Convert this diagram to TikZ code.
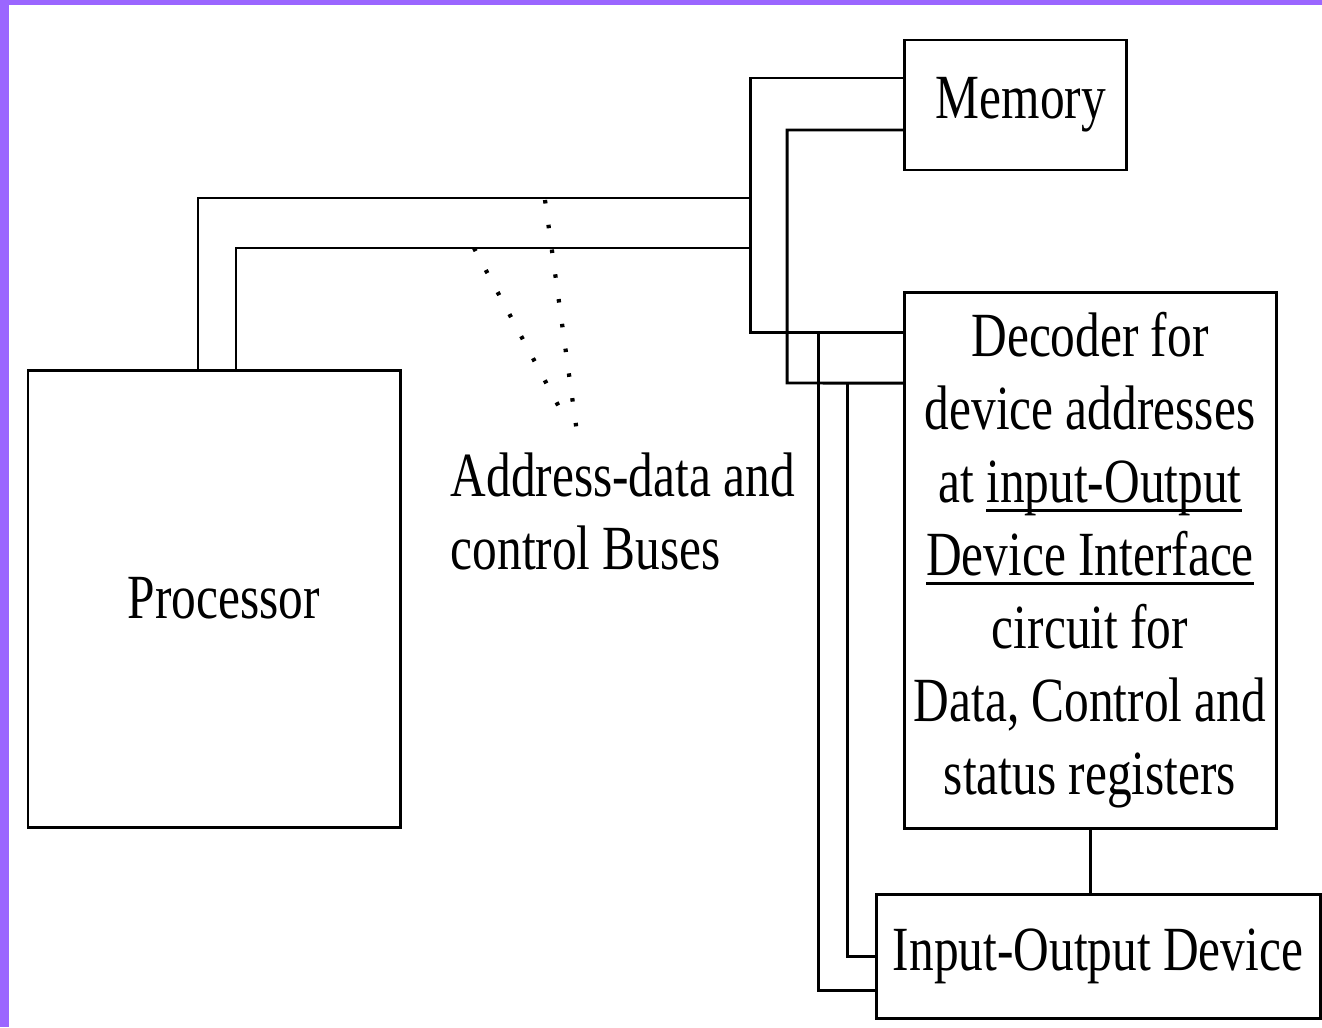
\documentclass[tikz,border=0pt]{standalone}
\usepackage{fontspec}
\setmainfont{Liberation Serif}[FakeStretch=0.785]

\definecolor{framepurple}{RGB}{155,102,255}

% underline that sits close to the baseline
\newsavebox\ulbox
\newcommand{\ulword}[1]{\sbox\ulbox{#1}\rlap{\rule[-0.16em]{\wd\ulbox}{0.05em}}\usebox\ulbox}
\newcommand{\blockfont}{\fontsize{17.9}{20.8}\selectfont}

\tikzset{
  block/.style = {rectangle,
      draw = black,
      line width = 0.85pt,
      inner sep = 0pt,
      outer sep = 0pt,
      font = \blockfont},
  bus/.style = {draw = black, line width = 0.85pt},
  pointer/.style = {line width = 1.2pt, dash pattern = on 0.35mm off 2.15mm},
}

\begin{document}
\begin{tikzpicture}[x = 0.1mm, y = -0.1mm]
\useasboundingbox (0,0) rectangle (1322,1027);
\fill[white] (0,0) rectangle (1322,1027);

% frame
\fill[framepurple] (0,0) rectangle (1322,5);
\fill[framepurple] (0,0) rectangle (9,1027);

% blocks
\node[block,
    minimum width = 37.2mm,
    minimum height = 45.7mm] (proc) at (214,598.5) {\hspace*{2mm}Processor};

\node[block,
    minimum width = 22.2mm,
    minimum height = 13mm] (mem) at (1015,105) {\hspace*{1.2mm}Memory};

\node[block,
    align = center,
    minimum width = 37.2mm,
    minimum height = 53.6mm] (dec) at (1090,560)
    {Decoder for\\device addresses\\at \ulword{input-Output}\\\ulword{Device Interface}\\circuit for\\Data, Control and\\status registers};

\node[block,
    minimum width = 44.4mm,
    minimum height = 12.4mm] (io) at (1098,956) {Input-Output Device};

% bus label
\node[anchor = north west,
    align = left,
    inner sep = 0pt,
    font = \blockfont] (buslabel) at (450,452) {Address-data and\\control Buses};

% bus corners and taps
\coordinate (busA) at (750,198);
\coordinate (busB) at (750,248);
\coordinate (cornerB) at (787,383);
\coordinate (dropA) at (818,332);
\coordinate (dropB) at (847,383);

% buses
\draw[bus] ([xshift = 17mm]proc.north west) |- (busA);
\draw[bus] ([xshift = 20.8mm]proc.north west) |- (busB);
\draw[bus] ([yshift = 2.7mm]mem.west) -| (busA);
\draw[bus] ([yshift = -4mm]dec.north west) -| (busA);
\draw[bus] ([yshift = -2.5mm]mem.west) -| (cornerB) -- ([yshift = -9.1mm]dec.north west);
\draw[bus] (dropA) |- ([yshift = -3.4mm]io.west);
\draw[bus] (dropB) |- (io.west);
\draw[bus] (dec.south) -- (dec.south |- io.north);

% pointers from the label
\coordinate (ptA) at (545,200);
\coordinate (ptB) at (474,248);
\coordinate (tipA) at (578,440);
\coordinate (tipB) at (566,420);
\draw[pointer] (ptA) -- (tipA);
\draw[pointer] (ptB) -- (tipB);

\end{tikzpicture}
\end{document}
